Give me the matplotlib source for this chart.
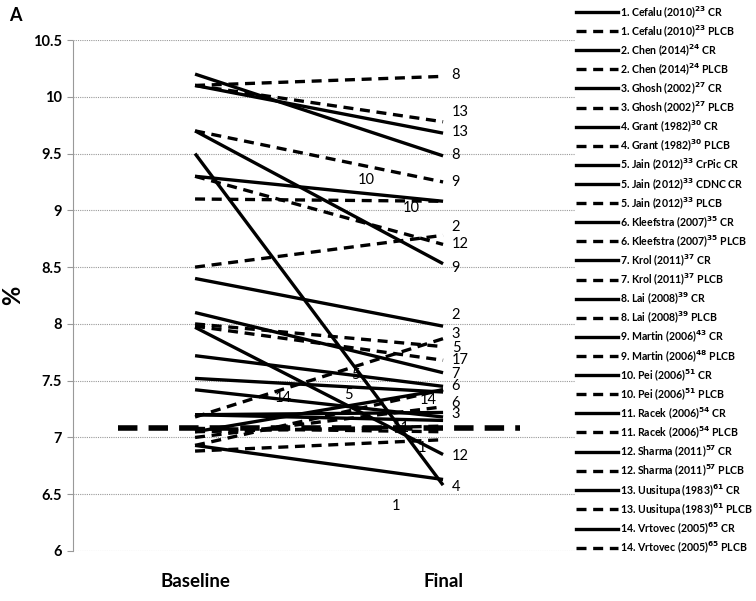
import matplotlib
matplotlib.use("Agg")
import matplotlib.pyplot as plt
from matplotlib.lines import Line2D

# study arms (legend order)
names = ["1. Cefalu (2010)", "1. Cefalu (2010)", "2. Chen (2014)", "2. Chen (2014)",
         "3. Ghosh (2002)", "3. Ghosh (2002)", "4. Grant (1982)", "4. Grant (1982)",
         "5. Jain (2012)", "5. Jain (2012)", "5. Jain (2012)",
         "6. Kleefstra (2007)", "6. Kleefstra (2007)", "7. Krol (2011)", "7. Krol (2011)",
         "8. Lai (2008)", "8. Lai (2008)", "9. Martin (2006)", "9. Martin (2006)",
         "10. Pei (2006)", "10. Pei (2006)", "11. Racek (2006)", "11. Racek (2006)",
         "12. Sharma (2011)", "12. Sharma (2011)", "13. Uusitupa (1983)", "13. Uusitupa (1983)",
         "14. Vrtovec (2005)", "14. Vrtovec (2005)"]
refs = ["23", "23", "24", "24", "27", "27", "30", "30", "33", "33", "33", "35", "35",
        "37", "37", "39", "39", "43", "48", "51", "51", "54", "54", "57", "57",
        "61", "61", "65", "65"]
arms = ["CR", "PLCB", "CR", "PLCB", "CR", "PLCB", "CR", "PLCB", "CrPic CR", "CDNC CR", "PLCB",
        "CR", "PLCB", "CR", "PLCB", "CR", "PLCB", "CR", "PLCB", "CR", "PLCB", "CR", "PLCB",
        "CR", "PLCB", "CR", "PLCB", "CR", "PLCB"]
baseline = [6.93, 6.88, 8.40, 8.50, 7.20, 7.18, 9.50, 7.05, 7.72, 7.52, 8.00,
            7.05, 7.00, 8.10, 7.98, 10.20, 10.10, 9.70, 9.70, 9.30, 9.10, 7.20, 7.08,
            7.97, 9.30, 10.10, 10.10, 7.42, 6.93]
final = [6.63, 6.98, 7.98, 8.78, 7.22, 7.87, 6.58, 7.10, 7.45, 7.40, 7.80,
         7.42, 7.27, 7.57, 7.68, 9.48, 10.18, 8.53, 9.25, 9.08, 9.08, 7.15, 7.05,
         6.85, 8.70, 9.68, 9.78, 7.18, 7.42]

# labels next to the Final end
end_text = ["8", "13", "13", "8", "9", "2", "12", "9", "2", "3", "5", "17", "7",
            "6", "6", "3", "12", "4"]
end_y = [10.19, 9.87, 9.69, 9.49, 9.25, 8.85, 8.70, 8.49, 8.08, 7.91, 7.79, 7.68,
         7.56, 7.45, 7.30, 7.21, 6.84, 6.56]
# labels inside the plot
mid_text = ["10", "10", "5", "5", "14", "14", "11", "1", "1"]
mid_x = [0.69, 0.87, 0.645, 0.62, 0.355, 0.94, 0.83, 0.915, 0.81]
mid_y = [9.27, 9.02, 7.55, 7.37, 7.35, 7.33, 7.08, 6.91, 6.40]

# pooled reference line
ref_level = 7.08
ref_span = [-0.31, 1.31]

cats = ["Baseline", "Final"]
lab_font = "Lato"

fig = plt.figure(figsize=(7.56, 6.01), dpi=100)
ax = fig.add_axes([0.0966, 0.0832, 0.664, 0.8502])

handles = []
for i in range(len(names)):
    ls = "-" if arms[i] != "PLCB" else (0, (3, 2))
    ax.plot([0, 1], [baseline[i], final[i]], color="black", lw=2.4, linestyle=ls,
            solid_capstyle="butt")
    lab = names[i] + r"$^{\mathbf{" + refs[i] + "}}$ " + arms[i]
    handles.append(Line2D([], [], color="black", lw=2.4, linestyle=ls, label=lab))

ax.plot(ref_span, [ref_level, ref_level], color="black", lw=4, linestyle=(0, (3.5, 2)))

for t, y in zip(end_text, end_y):
    ax.text(1.035, y, t, fontsize=10.5, family=lab_font, ha="left", va="center")
for t, x, y in zip(mid_text, mid_x, mid_y):
    ax.text(x, y, t, fontsize=10.5, family=lab_font, ha="center", va="center")

ax.set_xlim(-0.492, 1.532)
ax.set_ylim(6, 10.5)
ax.set_yticks([6, 6.5, 7, 7.5, 8, 8.5, 9, 9.5, 10, 10.5])
ax.set_yticklabels(["6", "6.5", "7", "7.5", "8", "8.5", "9", "9.5", "10", "10.5"],
                   fontsize=10.5, fontweight="bold", family=lab_font)
ax.set_xticks([0, 1])
ax.set_xticklabels(cats, fontsize=13.5, fontweight="bold", family=lab_font)
ax.tick_params(axis="x", length=0, pad=16)
ax.tick_params(axis="y", length=4, color="#999999", pad=4)
ax.grid(axis="y", color="#999999", linestyle=(0, (1, 1)), lw=0.8)
for s in ["top", "right", "bottom"]:
    ax.spines[s].set_visible(False)
ax.spines["left"].set_color("#999999")
ax.spines["left"].set_linestyle((0, (1, 1)))
ax.spines["left"].set_linewidth(0.8)
ax.set_ylabel("%", fontsize=17, fontweight="bold", family=lab_font, labelpad=6)

fig.text(0.012, 0.975, "A", fontsize=13, fontweight="bold", family=lab_font, va="center")

fig.legend(handles=handles, loc="upper left", bbox_to_anchor=(0.753, 1.004),
           frameon=False, prop={"family": lab_font, "weight": "bold", "size": 7.6},
           handlelength=4.0, handletextpad=0.25, labelspacing=0.33, borderaxespad=0.2)

fig.savefig("out.png", dpi=100)
